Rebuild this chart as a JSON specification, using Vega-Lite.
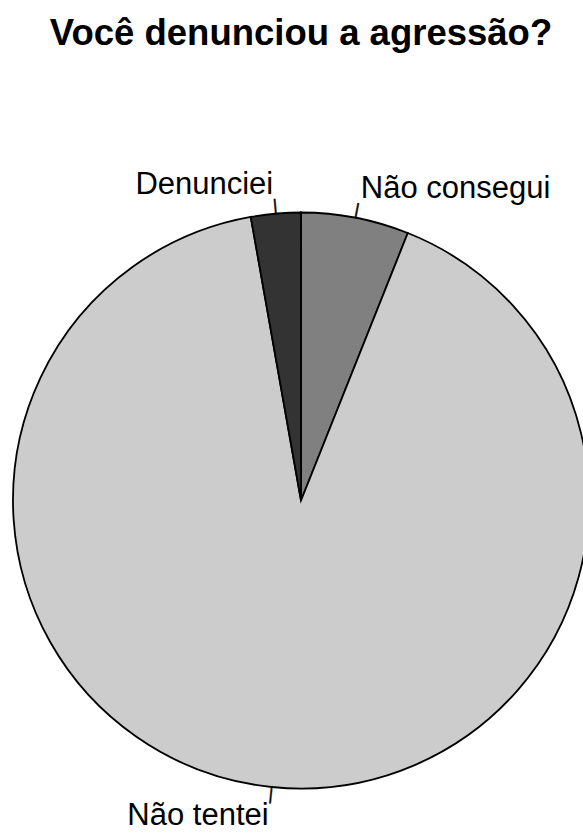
{
  "$schema": "https://vega.github.io/schema/vega-lite/v6.json",
  "autosize": "none",
  "padding": {"left": 0, "top": 80, "right": 0, "bottom": 0},
  "width": 602,
  "height": 841,
  "background": "white",
  "title": {
    "text": "Você denunciou a agressão?",
    "font": "Liberation Sans",
    "fontSize": 36.5,
    "fontWeight": "bold",
    "color": "black",
    "anchor": "middle",
    "offset": 28
  },
  "config": {"view": {"stroke": null}},
  "data": {
    "values": [
      {"resposta": "Não consegui", "n": 13, "ordem": 1},
      {"resposta": "Não tentei", "n": 196, "ordem": 2},
      {"resposta": "Denunciei", "n": 6, "ordem": 3}
    ]
  },
  "encoding": {
    "theta": {"field": "n", "type": "quantitative", "stack": true},
    "order": {"field": "ordem", "type": "quantitative"}
  },
  "layer": [
    {
      "mark": {"type": "arc", "radius": 288, "stroke": "black", "strokeWidth": 1.8},
      "encoding": {
        "color": {
          "field": "resposta",
          "type": "nominal",
          "scale": {"domain": ["Não consegui", "Não tentei", "Denunciei"], "range": ["#808080", "#cccccc", "#333333"]},
          "legend": null
        }
      }
    },
    {
      "mark": {"type": "text", "radius": 296, "font": "Liberation Sans", "fontSize": 16, "angle": 10.9, "baseline": "middle", "align": "center", "color": "black", "stroke": "black", "strokeWidth": 0.5},
      "encoding": {"text": {"condition": {"test": "datum.resposta === 'Não consegui'", "value": "|"}, "value": ""}}
    },
    {
      "mark": {"type": "text", "radius": 296, "font": "Liberation Sans", "fontSize": 16, "angle": 5.9, "baseline": "middle", "align": "center", "color": "black", "stroke": "black", "strokeWidth": 0.5},
      "encoding": {"text": {"condition": {"test": "datum.resposta === 'Não tentei'", "value": "|"}, "value": ""}}
    },
    {
      "mark": {"type": "text", "radius": 296, "font": "Liberation Sans", "fontSize": 16, "angle": -5, "baseline": "middle", "align": "center", "color": "black", "stroke": "black", "strokeWidth": 0.5},
      "encoding": {"text": {"condition": {"test": "datum.resposta === 'Denunciei'", "value": "|"}, "value": ""}}
    },
    {
      "mark": {"type": "text", "radius": 316.8, "font": "Liberation Sans", "fontSize": 31, "baseline": "middle", "align": "left", "color": "black"},
      "encoding": {"text": {"condition": {"test": "datum.resposta === 'Não consegui'", "field": "resposta", "type": "nominal"}, "value": ""}}
    },
    {
      "mark": {"type": "text", "radius": 316.8, "font": "Liberation Sans", "fontSize": 31, "baseline": "middle", "align": "right", "color": "black"},
      "encoding": {"text": {"condition": {"test": "datum.resposta !== 'Não consegui'", "field": "resposta", "type": "nominal"}, "value": ""}}
    }
  ]
}
